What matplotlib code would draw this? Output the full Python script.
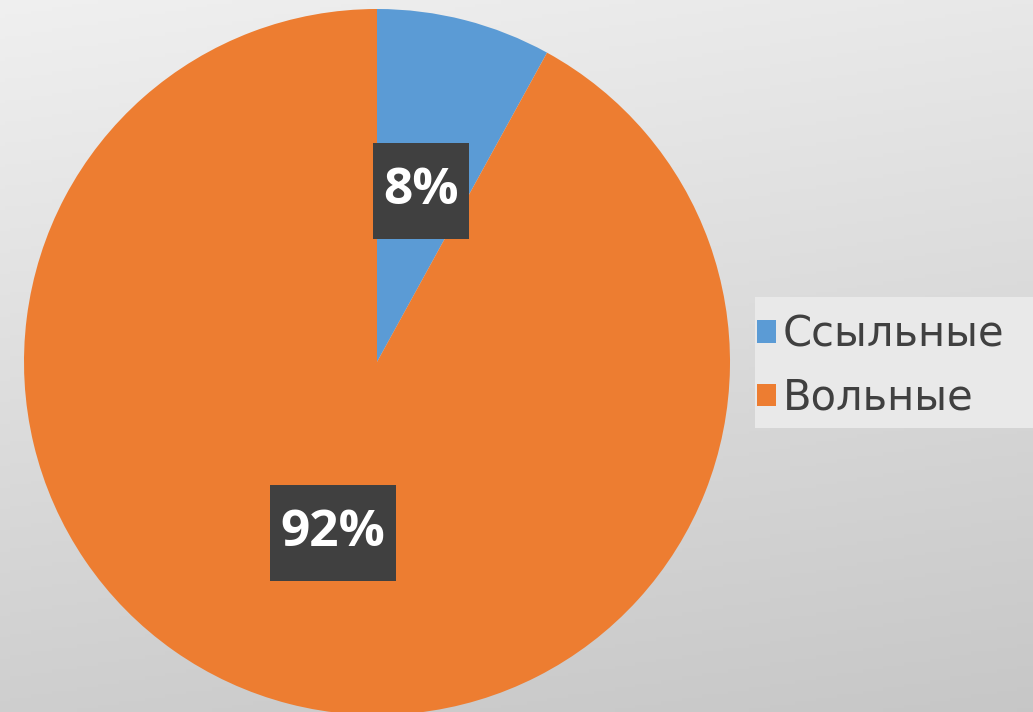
import numpy as np
import matplotlib
matplotlib.use('Agg')
import matplotlib.pyplot as plt
from matplotlib.patches import Patch
from matplotlib.path import Path

labels = ['Ссыльные', 'Вольные']
values = [8, 92]
colors = ['#5b9bd5', '#ed7d31']

plt.rcParams['font.family'] = ['Open Sans', 'DejaVu Sans']

fig = plt.figure(figsize=(10.33, 7.12), dpi=100)

# background gradient (light top-left to grey bottom-right)
bg = fig.add_axes([0, 0, 1, 1])
yy, xx = np.mgrid[0:1:200j, 0:1:200j]
shade = 0.94 - 0.13 * yy - 0.03 * xx
bg.imshow(np.dstack([shade, shade, shade]), extent=[0, 1, 0, 1], aspect='auto', origin='upper')
bg.axis('off')


# label box: narrow padding left/right, tall padding top/bottom
def tall_box(x0, y0, width, height, mutation_size):
    px = 0.2 * mutation_size
    py = 0.44 * mutation_size
    x1, y1 = x0 - px, y0 - py
    x2, y2 = x0 + width + px, y0 + height + py
    return Path([(x1, y1), (x2, y1), (x2, y2), (x1, y2), (x1, y1)], closed=True)


# pie axes: centre (377, 362) px, radius 353 px
r = 353
cx, cy = 377, 712 - 362
ax = fig.add_axes([(cx - r) / 1033, (cy - r) / 712, 2 * r / 1033, 2 * r / 712])
wedges, texts, autotexts = ax.pie(values, colors=colors, startangle=90, counterclock=False,
                                  autopct='%d%%', pctdistance=0.5, radius=1,
                                  wedgeprops=dict(linewidth=0))
ax.set_xlim(-1, 1)
ax.set_ylim(-1, 1)
ax.set_aspect('equal')

for t in autotexts:
    t.set_color('white')
    t.set_fontsize(37)
    t.set_fontweight('bold')
    t.set_bbox(dict(boxstyle=tall_box, facecolor='#404040', edgecolor='none'))

# legend with light background box
fig.patches.append(plt.Rectangle((755 / 1033, 1 - 428 / 712), 278 / 1033, 131 / 712,
                                 transform=fig.transFigure, facecolor='#e9e9e9',
                                 edgecolor='none', zorder=0.5))
handles = [Patch(facecolor=c, edgecolor='none') for c in colors]
leg = fig.legend(handles, labels, loc='center left', bbox_to_anchor=(757 / 1033, 1 - 366 / 712),
                 frameon=False, prop={'family': 'DejaVu Sans', 'size': 30},
                 handlelength=0.455, handleheight=0.455, handletextpad=0.17,
                 labelspacing=0.52, labelcolor='#404040', borderaxespad=0, borderpad=0)

fig.savefig('out.png', dpi=100)
